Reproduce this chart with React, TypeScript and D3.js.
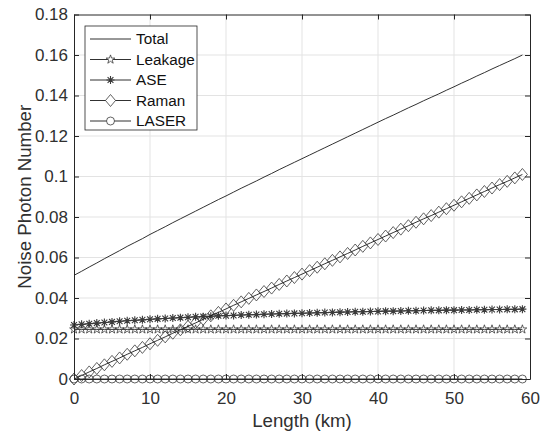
import React, { useRef, useEffect } from "react";
import * as d3 from "d3";

// fibre length (km)
const lengthKm = [
  0, 1, 2, 3, 4, 5, 6, 7, 8, 9, 10, 11, 12, 13, 14, 15, 16, 17, 18, 19,
  20, 21, 22, 23, 24, 25, 26, 27, 28, 29, 30, 31, 32, 33, 34, 35, 36, 37, 38, 39,
  40, 41, 42, 43, 44, 45, 46, 47, 48, 49, 50, 51, 52, 53, 54, 55, 56, 57, 58, 59,
];

const total = [
  0.0512, 0.0532, 0.0553, 0.0573, 0.0594, 0.0614, 0.0634, 0.0655, 0.0674, 0.0693,
  0.0714, 0.0733, 0.0752, 0.0772, 0.0791, 0.081, 0.0829, 0.0848, 0.0867, 0.0886,
  0.0904, 0.0923, 0.0942, 0.096, 0.0978, 0.0997, 0.1015, 0.1034, 0.1052, 0.107,
  0.1088, 0.1106, 0.1124, 0.1142, 0.116, 0.1178, 0.1196, 0.1214, 0.1232, 0.125,
  0.1268, 0.1286, 0.1303, 0.1321, 0.1339, 0.1356, 0.1374, 0.1391, 0.1408, 0.1426,
  0.1443, 0.1461, 0.1478, 0.1496, 0.1513, 0.1531, 0.1548, 0.1565, 0.1582, 0.16,
];

const leakage = [
  0.0245, 0.0245, 0.0245, 0.0245, 0.0245, 0.0245, 0.0245, 0.0245, 0.0245, 0.0245,
  0.0245, 0.0245, 0.0245, 0.0245, 0.0245, 0.0245, 0.0245, 0.0245, 0.0245, 0.0245,
  0.0245, 0.0245, 0.0245, 0.0245, 0.0245, 0.0245, 0.0245, 0.0245, 0.0245, 0.0245,
  0.0245, 0.0245, 0.0245, 0.0245, 0.0245, 0.0245, 0.0245, 0.0245, 0.0245, 0.0245,
  0.0245, 0.0245, 0.0245, 0.0245, 0.0245, 0.0245, 0.0245, 0.0245, 0.0245, 0.0245,
  0.0245, 0.0245, 0.0245, 0.0245, 0.0245, 0.0245, 0.0245, 0.0245, 0.0245, 0.0245,
];

const ase = [
  0.0267, 0.027, 0.0273, 0.0276, 0.0279, 0.0282, 0.0285, 0.0288, 0.029, 0.0292,
  0.0295, 0.0297, 0.0299, 0.0301, 0.0303, 0.0305, 0.0307, 0.0308, 0.031, 0.0312,
  0.0313, 0.0314, 0.0316, 0.0317, 0.0318, 0.032, 0.0321, 0.0322, 0.0323, 0.0324,
  0.0325, 0.0326, 0.0327, 0.0328, 0.0329, 0.033, 0.0331, 0.0332, 0.0332, 0.0333,
  0.0334, 0.0335, 0.0335, 0.0336, 0.0337, 0.0337, 0.0338, 0.0339, 0.0339, 0.034,
  0.034, 0.0341, 0.0341, 0.0342, 0.0342, 0.0343, 0.0343, 0.0344, 0.0344, 0.0345,
];

const raman = [
  0, 0.0017, 0.0035, 0.0052, 0.007, 0.0087, 0.0104, 0.0122, 0.0139, 0.0156,
  0.0174, 0.0191, 0.0208, 0.0226, 0.0243, 0.026, 0.0277, 0.0295, 0.0312, 0.0329,
  0.0346, 0.0364, 0.0381, 0.0398, 0.0415, 0.0432, 0.0449, 0.0467, 0.0484, 0.0501,
  0.0518, 0.0535, 0.0552, 0.0569, 0.0586, 0.0603, 0.062, 0.0637, 0.0655, 0.0672,
  0.0689, 0.0706, 0.0723, 0.074, 0.0757, 0.0774, 0.0791, 0.0807, 0.0824, 0.0841,
  0.0858, 0.0875, 0.0892, 0.0909, 0.0926, 0.0943, 0.096, 0.0976, 0.0993, 0.101,
];

const laser = [
  0, 0, 0, 0, 0, 0, 0, 0, 0, 0, 0, 0, 0, 0, 0, 0, 0, 0, 0, 0,
  0, 0, 0, 0, 0, 0, 0, 0, 0, 0, 0, 0, 0, 0, 0, 0, 0, 0, 0, 0,
  0, 0, 0, 0, 0, 0, 0, 0, 0, 0, 0, 0, 0, 0, 0, 0, 0, 0, 0, 0,
];

const seriesNames = ["Total", "Leakage", "ASE", "Raman", "LASER"];
const seriesMarkers = ["none", "pentagram", "asterisk", "diamond", "circle"];
const seriesValues = [total, leakage, ase, raman, laser];

const xTicks = [0, 10, 20, 30, 40, 50, 60];
const yTicks = [0, 0.02, 0.04, 0.06, 0.08, 0.1, 0.12, 0.14, 0.16, 0.18];
const yTickLabels = ["0", "0.02", "0.04", "0.06", "0.08", "0.1", "0.12", "0.14", "0.16", "0.18"];

const width = 545;
const height = 435;
const margin = { top: 14.5, right: 15, bottom: 56, left: 74 };
const font = "'Liberation Sans', Arial, Helvetica, sans-serif";
const axisColor = "#262626";
const textColor = "#303030";

// marker shapes, centred on 0,0
function markerPath(kind) {
  if (kind === "circle") {
    const r = 4;
    return `M${-r},0A${r},${r} 0 1,0 ${r},0A${r},${r} 0 1,0 ${-r},0Z`;
  }
  if (kind === "diamond") {
    return "M0,-6L5,0L0,6L-5,0Z";
  }
  if (kind === "asterisk") {
    return "M-4,0H4M0,-4V4M-2.9,-2.9L2.9,2.9M-2.9,2.9L2.9,-2.9";
  }
  if (kind === "pentagram") {
    const pts = [];
    for (let i = 0; i < 10; i++) {
      const r = i % 2 === 0 ? 4.6 : 1.8;
      const a = -Math.PI / 2 + (i * Math.PI) / 5;
      pts.push([r * Math.cos(a), r * Math.sin(a)]);
    }
    return "M" + pts.map((p) => p[0].toFixed(2) + "," + p[1].toFixed(2)).join("L") + "Z";
  }
  return "";
}

export default function App() {
  const svgRef = useRef(null);

  useEffect(() => {
    const svg = d3.select(svgRef.current);
    svg.selectAll("*").remove();

    const x0 = margin.left;
    const x1 = width - margin.right;
    const y0 = height - margin.bottom;
    const y1 = margin.top;

    const xScale = d3.scaleLinear().domain([0, 60]).range([x0, x1]);
    const yScale = d3.scaleLinear().domain([0, 0.18]).range([y0, y1]);

    // background
    svg.append("rect").attr("width", width).attr("height", height).attr("fill", "#fff");

    // grid
    const grid = svg.append("g").attr("stroke", "#e3e3e3").attr("stroke-width", 1);
    grid
      .selectAll(".gx")
      .data(xTicks.slice(1, -1))
      .join("line")
      .attr("x1", (d) => xScale(d))
      .attr("x2", (d) => xScale(d))
      .attr("y1", y1)
      .attr("y2", y0);
    grid
      .selectAll(".gy")
      .data(yTicks.slice(1, -1))
      .join("line")
      .attr("x1", x0)
      .attr("x2", x1)
      .attr("y1", (d) => yScale(d))
      .attr("y2", (d) => yScale(d));

    // lines + markers
    const lineGenerator = d3
      .line()
      .x((d, i) => xScale(lengthKm[i]))
      .y((d) => yScale(d));

    seriesValues.forEach((values, s) => {
      const g = svg.append("g");
      g.append("path")
        .datum(values)
        .attr("fill", "none")
        .attr("stroke", "#1a1a1a")
        .attr("stroke-width", 0.9)
        .attr("d", lineGenerator);
      if (seriesMarkers[s] !== "none") {
        g.selectAll(".marker")
          .data(values)
          .join("path")
          .attr("class", "marker")
          .attr("transform", (d, i) => `translate(${xScale(lengthKm[i])},${yScale(d)})`)
          .attr("d", markerPath(seriesMarkers[s]))
          .attr("fill", "none")
          .attr("stroke", "#3a3a3a")
          .attr("stroke-width", seriesMarkers[s] === "asterisk" ? 1.1 : 0.8);
      }
    });

    // axes (ticks inward on all four sides)
    const bottom = svg
      .append("g")
      .attr("transform", `translate(0,${y0})`)
      .call(d3.axisBottom(xScale).tickValues(xTicks).tickSizeInner(-5).tickSizeOuter(0).tickPadding(13));
    const top = svg
      .append("g")
      .attr("transform", `translate(0,${y1})`)
      .call(d3.axisTop(xScale).tickValues(xTicks).tickSizeInner(-5).tickSizeOuter(0).tickFormat(() => ""));
    const left = svg
      .append("g")
      .attr("transform", `translate(${x0},0)`)
      .call(
        d3
          .axisLeft(yScale)
          .tickValues(yTicks)
          .tickSizeInner(-5)
          .tickSizeOuter(0)
          .tickPadding(6)
          .tickFormat((d, i) => yTickLabels[i])
      );
    const right = svg
      .append("g")
      .attr("transform", `translate(${x1},0)`)
      .call(d3.axisRight(yScale).tickValues(yTicks).tickSizeInner(-5).tickSizeOuter(0).tickFormat(() => ""));

    [bottom, top, left, right].forEach((a) => {
      a.select(".domain").attr("stroke", axisColor).attr("stroke-width", 1);
      a.selectAll(".tick line").attr("stroke", axisColor).attr("stroke-width", 1);
      a.selectAll(".tick text")
        .attr("fill", textColor)
        .attr("font-family", font)
        .attr("font-size", 17);
    });

    // axis titles
    svg
      .append("text")
      .attr("x", (x0 + x1) / 2)
      .attr("y", 427)
      .attr("text-anchor", "middle")
      .attr("font-family", font)
      .attr("font-size", 18.7)
      .attr("fill", textColor)
      .text("Length (km)");
    svg
      .append("text")
      .attr("transform", `translate(31,${(y0 + y1) / 2}) rotate(-90)`)
      .attr("text-anchor", "middle")
      .attr("font-family", font)
      .attr("font-size", 18.7)
      .attr("fill", textColor)
      .text("Noise Photon Number");

    // legend
    const legend = svg.append("g").attr("transform", "translate(85,26)");
    legend
      .append("rect")
      .attr("width", 112)
      .attr("height", 104)
      .attr("fill", "#fff")
      .attr("stroke", axisColor)
      .attr("stroke-width", 0.8);
    const rows = legend
      .selectAll(".row")
      .data(seriesNames)
      .join("g")
      .attr("class", "row")
      .attr("transform", (d, i) => `translate(0,${13 + i * 20.5})`);
    rows
      .append("line")
      .attr("x1", 5)
      .attr("x2", 46)
      .attr("stroke", "#1a1a1a")
      .attr("stroke-width", 0.9);
    rows
      .append("path")
      .attr("transform", "translate(25.5,0)")
      .attr("d", (d, i) => markerPath(seriesMarkers[i]))
      .attr("fill", "#fff")
      .attr("stroke", "#3a3a3a")
      .attr("stroke-width", (d, i) => (seriesMarkers[i] === "asterisk" ? 1.1 : 0.8));
    rows
      .append("text")
      .attr("x", 51)
      .attr("dy", "0.35em")
      .attr("font-family", font)
      .attr("font-size", 15.3)
      .attr("fill", "#111")
      .text((d) => d);
  }, []);

  return (
    <svg
      ref={svgRef}
      width={width}
      height={height}
      style={{ position: "absolute", left: 0, top: 0, display: "block" }}
    />
  );
}
